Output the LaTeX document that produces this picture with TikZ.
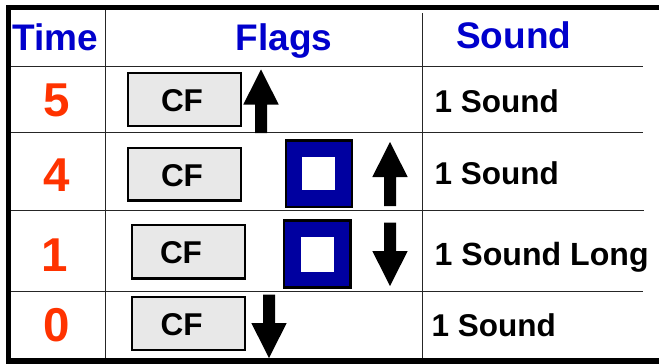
\documentclass[tikz,border=0pt]{standalone}
\usepackage{fontspec}
\setmainfont{Liberation Sans}
\definecolor{headblue}{HTML}{0000CC}
\definecolor{numorange}{HTML}{FF3300}
\definecolor{cfgray}{HTML}{E8E8E8}
\definecolor{sqblue}{HTML}{0000A0}
\tikzset{
  hd/.style={anchor=base west,inner sep=0pt,text=headblue,font=\fontsize{37}{37}\selectfont\bfseries},
  num/.style={anchor=base,inner sep=0pt,text=numorange,font=\fontsize{47.5}{48}\selectfont\bfseries},
  snd/.style={anchor=base west,inner sep=0pt,text=black,font=\fontsize{31.5}{32}\selectfont\bfseries},
  sndlong/.style={anchor=base west,inner sep=0pt,text=black,font=\fontsize{32.1}{33}\selectfont\bfseries},
  cftxt/.style={anchor=base,inner sep=0pt,text=black,font=\fontsize{31.5}{32}\selectfont\bfseries},
  cfbox/.style={draw=black,line width=2.6pt,fill=cfgray},
  sqout/.style={draw=black,line width=2.6pt,fill=sqblue},
  sqin/.style={fill=white,draw=none},
  grid/.style={draw=black!85,line width=1pt},
  frame/.style={fill=black,draw=none},
  arr/.style={fill=black,draw=none}
}
\newcommand{\uparr}[3]{% cx, tip y, bottom y
  \fill[arr] (#1,#2) -- (#1+17.7,#2+35) -- (#1+6,#2+35) -- (#1+6,#3) -- (#1-6,#3) -- (#1-6,#2+35) -- (#1-17.7,#2+35) -- cycle;}
\newcommand{\downarr}[3]{% cx, tip y, top y
  \fill[arr] (#1,#2) -- (#1+17.7,#2-35) -- (#1+6,#2-35) -- (#1+6,#3) -- (#1-6,#3) -- (#1-6,#2-35) -- (#1-17.7,#2-35) -- cycle;}
\begin{document}
\begin{tikzpicture}[x=1pt,y=-1pt]
\useasboundingbox (0,0) rectangle (659,364);
% frame
\fill[frame] (6,4.5) rectangle (659,10);
\fill[frame] (6,4.5) rectangle (11,364);
\fill[frame] (6,358) rectangle (659,364);
% grid
\draw[grid] (105,10) -- (105,358);
\draw[grid] (422.5,13) -- (422.5,358);
\draw[grid] (11,66) -- (643,66);
\draw[grid] (11,132) -- (643,132);
\draw[grid] (11,210) -- (644,210);
\draw[grid] (11,291.5) -- (643,291.5);
% headers
\node[hd] (time) at (12,50) {Time};
\node[hd] (flags) at (235.5,50) {Flags};
\node[hd] (sound) at (456,48.5) {Sound};
% numbers
\node[num] (n5) at (57,116.7) {5};
\node[num] (n4) at (57,191.7) {4};
\node[num] (n1) at (55,271) {1};
\node[num] (n0) at (57,341) {0};
% CF boxes
\filldraw[cfbox] (128,73) rectangle (241,126);
\filldraw[cfbox] (128,148) rectangle (241,200.5);
\filldraw[cfbox] (132,225) rectangle (245,278.5);
\filldraw[cfbox] (132,297) rectangle (245,350);
\node[cftxt] (cf5) at (182,111) {CF};
\node[cftxt] (cf4) at (182,186) {CF};
\node[cftxt] (cf1) at (181,263) {CF};
\node[cftxt] (cf0) at (181.5,335) {CF};
% blue squares
\filldraw[sqout] (286,140.7) rectangle (352,207);
\fill[sqin] (302.3,156.7) rectangle (335.3,190);
\filldraw[sqout] (284,220.7) rectangle (350.5,287.5);
\fill[sqin] (300.7,237.3) rectangle (334,271.5);
% arrows
\uparr{261}{69.5}{133}
\uparr{390}{142}{206}
\downarr{390}{286}{222.5}
\downarr{269}{358}{294.5}
% sound labels
\node[snd] (s5) at (434.5,112) {1 Sound};
\node[snd] (s4) at (434.5,184) {1 Sound};
\node[sndlong] (s1) at (434.5,265) {1 Sound Long};
\node[snd] (s0) at (431.5,336) {1 Sound};
\end{tikzpicture}
\end{document}
